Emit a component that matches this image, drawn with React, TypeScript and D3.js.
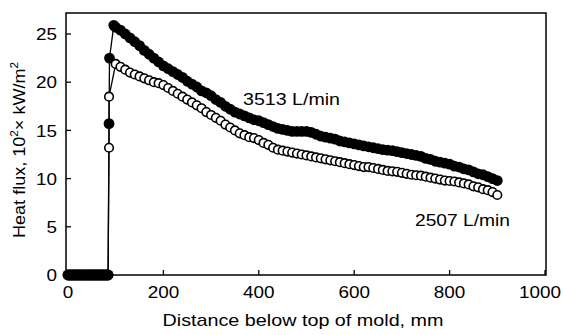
import React from "react";
import * as d3 from "d3";

// ---- data ----
const zeroDist = [0, 4, 8, 12, 16, 20, 24, 28, 32, 36, 40, 44, 48, 52, 56, 60, 64, 68, 72, 76, 80, 84];
const zeroVal = [0, 0, 0, 0, 0, 0, 0, 0, 0, 0, 0, 0, 0, 0, 0, 0, 0, 0, 0, 0, 0, 0];

const jumpDist3513 = [86, 87, 96];
const jumpVal3513 = [15.7, 22.5, 25.9];
const jumpDist2507 = [86, 86];
const jumpVal2507 = [13.2, 18.5];

const dist = [
  100, 110, 120, 130, 140, 150, 160, 170, 180, 190, 200, 210, 220, 230, 240, 250, 260, 270, 280, 290,
  300, 310, 320, 330, 340, 350, 360, 370, 380, 390, 400, 410, 420, 430, 440, 450, 460, 470, 480, 490,
  500, 510, 520, 530, 540, 550, 560, 570, 580, 590, 600, 610, 620, 630, 640, 650, 660, 670, 680, 690,
  700, 710, 720, 730, 740, 750, 760, 770, 780, 790, 800, 810, 820, 830, 840, 850, 860, 870, 880, 890, 900,
];
const flux3513 = [
  25.7, 25.4, 25.0, 24.6, 24.2, 23.8, 23.3, 22.9, 22.5, 22.1, 21.7, 21.4, 21.1, 20.8, 20.5, 20.1, 19.8, 19.5, 19.1, 18.9,
  18.6, 18.2, 17.9, 17.5, 17.2, 16.9, 16.7, 16.5, 16.3, 16.1, 16.0, 15.8, 15.6, 15.4, 15.2, 15.1, 15.0, 14.9, 14.9, 14.9,
  14.9, 14.8, 14.6, 14.4, 14.3, 14.2, 14.1, 13.9, 13.8, 13.7, 13.6, 13.5, 13.4, 13.3, 13.2, 13.1, 13.0, 12.95, 12.9, 12.8,
  12.7, 12.6, 12.5, 12.4, 12.3, 12.1, 12.0, 11.8, 11.7, 11.6, 11.5, 11.3, 11.2, 11.0, 10.9, 10.7, 10.5, 10.4, 10.2, 10.0, 9.8,
];
const flux2507 = [
  21.9, 21.6, 21.3, 21.0, 20.8, 20.6, 20.4, 20.2, 20.0, 19.9, 19.7, 19.4, 19.1, 18.8, 18.5, 18.2, 17.9, 17.6, 17.3, 16.9,
  16.6, 16.3, 16.0, 15.6, 15.3, 15.0, 14.7, 14.5, 14.3, 14.2, 14.0, 13.7, 13.5, 13.2, 13.0, 12.9, 12.8, 12.7, 12.6, 12.5,
  12.4, 12.3, 12.2, 12.1, 12.0, 11.9, 11.8, 11.7, 11.6, 11.5, 11.4, 11.3, 11.2, 11.2, 11.1, 11.0, 10.9, 10.8, 10.75, 10.7,
  10.6, 10.5, 10.4, 10.35, 10.3, 10.2, 10.1, 10.0, 9.9, 9.8, 9.75, 9.7, 9.6, 9.5, 9.4, 9.2, 9.1, 8.9, 8.8, 8.6, 8.3,
];

const xTicks = [0, 200, 400, 600, 800, 1000];
const yTicks = [0, 5, 10, 15, 20, 25];
const seriesLabels = ["3513 L/min", "2507 L/min"];
const xTitle = "Distance below top of mold, mm";

// ---- layout ----
const W = 563;
const H = 335;
const frame = { left: 66, right: 546, top: 13, bottom: 275 };
const FONT = "'Liberation Sans', Arial, sans-serif";

export default function App() {
  const x = d3.scaleLinear().domain([0, 1000]).range([68, 545]);
  const y = d3.scaleLinear().domain([0, 25]).range([275, 34]);

  const build = (jd: number[], jv: number[], v: number[]) => {
    const pts: [number, number][] = [];
    zeroDist.forEach((d, i) => pts.push([d, zeroVal[i]]));
    jd.forEach((d, i) => pts.push([d, jv[i]]));
    dist.forEach((d, i) => pts.push([d, v[i]]));
    return pts;
  };
  const s3513 = build(jumpDist3513, jumpVal3513, flux3513);
  const s2507 = build(jumpDist2507, jumpVal2507, flux2507);

  const line = d3
    .line<[number, number]>()
    .x((d) => x(d[0]))
    .y((d) => y(d[1]));

  const digitW = 10.5;

  return (
    <svg
      width={W}
      height={H}
      style={{ position: "absolute", left: 0, top: 0, background: "#fff" }}
      fontFamily={FONT}
    >
      <rect x={0} y={0} width={W} height={H} fill="#fff" />
      {/* frame */}
      <rect
        x={frame.left}
        y={frame.top}
        width={frame.right - frame.left}
        height={frame.bottom - frame.top}
        fill="none"
        stroke="#000"
        strokeWidth={1.5}
      />
      {/* y ticks */}
      {yTicks.map((t) => (
        <g key={"y" + t}>
          <line x1={frame.left} x2={frame.left + 5} y1={y(t)} y2={y(t)} stroke="#000" strokeWidth={1.3} />
          <text
            x={57}
            y={y(t)}
            dy="0.36em"
            textAnchor="end"
            fontSize={17}
            textLength={String(t).length * digitW}
            lengthAdjust="spacingAndGlyphs"
          >
            {t}
          </text>
        </g>
      ))}
      {/* x ticks */}
      {xTicks.map((t) => {
        const w = String(t).length * digitW;
        const cx = Math.min(x(t), W - 2 - w / 2);
        return (
          <g key={"x" + t}>
            <line x1={x(t)} x2={x(t)} y1={frame.bottom} y2={frame.bottom - 5} stroke="#000" strokeWidth={1.3} />
            <text
              x={cx}
              y={298}
              textAnchor="middle"
              fontSize={17}
              textLength={w}
              lengthAdjust="spacingAndGlyphs"
            >
              {t}
            </text>
          </g>
        );
      })}
      {/* axis titles */}
      <text x={303} y={326} textAnchor="middle" fontSize={17} textLength={281} lengthAdjust="spacingAndGlyphs">
        {xTitle}
      </text>
      <text
        transform="translate(25,150) rotate(-90)"
        textAnchor="middle"
        fontSize={17}
        textLength={176}
        lengthAdjust="spacingAndGlyphs"
      >
        Heat flux, 10
        <tspan fontSize={11} dy={-7}>2</tspan>
        <tspan dy={7}>× kW/m</tspan>
        <tspan fontSize={11} dy={-7}>2</tspan>
      </text>

      {/* connecting lines */}
      <path d={line(s3513) || ""} fill="none" stroke="#000" strokeWidth={1.3} />
      <path d={line(s2507) || ""} fill="none" stroke="#000" strokeWidth={1.3} />

      {/* 3513 L/min: filled markers */}
      {s3513.map((p, i) => (
        <circle key={"f" + i} cx={x(p[0])} cy={y(p[1])} r={5.4} fill="#000" />
      ))}
      {/* 2507 L/min: open markers */}
      {s2507.map((p, i) =>
        p[1] === 0 ? (
          <circle key={"o" + i} cx={x(p[0])} cy={y(p[1])} r={5.4} fill="#000" />
        ) : (
          <circle key={"o" + i} cx={x(p[0])} cy={y(p[1])} r={4.3} fill="#fff" stroke="#000" strokeWidth={1.6} />
        )
      )}

      {/* series labels */}
      <text x={243} y={105} fontSize={17} textLength={97} lengthAdjust="spacingAndGlyphs">
        {seriesLabels[0]}
      </text>
      <text x={415} y={226} fontSize={17} textLength={95} lengthAdjust="spacingAndGlyphs">
        {seriesLabels[1]}
      </text>
    </svg>
  );
}
